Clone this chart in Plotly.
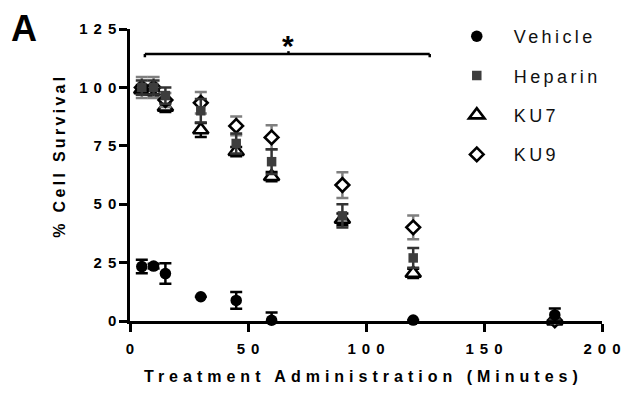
import plotly.graph_objects as go

# ---------------- data ----------------
veh_t = [5, 10, 15, 30, 45, 60, 120, 180]
veh_y = [23.3, 23.5, 20.3, 10.4, 8.8, 0.3, 0.4, 2.6]
veh_e = [2.9, 1.0, 4.4, 0.0, 3.6, 3.3, 0.0, 2.8]

hep_t = [5, 10, 15, 30, 45, 60, 90, 120, 180]
hep_y = [100.0, 100.0, 96.5, 90.0, 76.0, 68.2, 45.0, 27.0, 0.5]
hep_e = [3.0, 3.0, 3.5, 5.0, 4.3, 5.3, 5.0, 4.2, 0.0]

ku7_t = [5, 10, 15, 30, 45, 60, 90, 120, 180]
ku7_y = [99.0, 98.5, 91.5, 81.8, 72.5, 61.8, 43.5, 20.4, 0.0]
ku7_e = [2.0, 2.0, 2.0, 3.0, 2.0, 2.0, 2.5, 2.0, 1.0]

ku9_t = [5, 10, 15, 30, 45, 60, 90, 120, 180]
ku9_y = [100.0, 100.0, 94.6, 93.4, 83.5, 78.6, 58.2, 40.1, 0.3]
ku9_e = [4.5, 4.5, 3.0, 4.6, 4.0, 5.2, 5.5, 5.1, 0.0]

x_ticks = [0, 50, 100, 150, 200]
y_ticks = [0, 25, 50, 75, 100, 125]

sig_x0, sig_x1, sig_y = 6.3, 127.0, 114.3
sig_label = "*"

FONT = "Liberation Sans, Arial, Helvetica, sans-serif"


def spaced(s, px):
    s = str(s)
    if len(s) <= 1:
        return s
    return f'<span style="letter-spacing:{px}px">{s[:-1]}</span>{s[-1]}'


# ---------------- geometry (pixels) ----------------
W, H = 633, 394
ML, MR, MT, MB = 130, 20, 29, 73
PW = W - ML - MR
PH = H - MT - MB


def px_x(p):
    return (p - ML) / PW


def px_y(p):
    return (H - MB - p) / PH


fig = go.Figure()

common = dict(mode="markers", cliponaxis=False)

fig.add_trace(go.Scatter(
    x=ku7_t, y=ku7_y, name=spaced("KU7", 3.4), legendgroup="c", legendrank=3,
    marker=dict(symbol="triangle-up", size=13.5, color="white",
                line=dict(color="black", width=2.6)),
    error_y=dict(type="data", array=ku7_e, color="black", thickness=2.5, width=6),
    **common))

fig.add_trace(go.Scatter(
    x=ku9_t, y=ku9_y, name=spaced("KU9", 3.4), legendgroup="d", legendrank=4,
    marker=dict(symbol="diamond", size=10.5, color="white",
                line=dict(color="black", width=2.6)),
    error_y=dict(type="data", array=ku9_e, color="#7f7f7f", thickness=2.5, width=6),
    **common))

fig.add_trace(go.Scatter(
    x=hep_t, y=hep_y, name=spaced("Heparin", 3.4), legendgroup="b", legendrank=2,
    marker=dict(symbol="square", size=9.5, color="#3d3d3d", line=dict(width=0)),
    error_y=dict(type="data", array=hep_e, color="#333333", thickness=2.5, width=6),
    **common))

fig.add_trace(go.Scatter(
    x=veh_t, y=veh_y, name=spaced("Vehicle", 3.4), legendgroup="a", legendrank=1,
    marker=dict(symbol="circle", size=11.5, color="black", line=dict(width=0)),
    error_y=dict(type="data", array=veh_e, color="black", thickness=2.5, width=6),
    **common))

# significance bracket
line = dict(color="black", width=2.5)
fig.add_shape(type="line", x0=sig_x0, x1=sig_x1, y0=sig_y, y1=sig_y, line=line)
fig.add_shape(type="line", x0=sig_x0, x1=sig_x0, y0=sig_y, y1=sig_y - 1.4, line=line)
fig.add_shape(type="line", x0=sig_x1, x1=sig_x1, y0=sig_y, y1=sig_y - 1.4, line=line)
mid = (sig_x0 + sig_x1) / 2 + 0.5
fig.add_shape(type="line", x0=mid, x1=mid, y0=sig_y, y1=sig_y + 1.2, line=line)
fig.add_annotation(x=mid, y=sig_y, xref="x", yref="y", text=f"<b>{sig_label}</b>",
                   showarrow=False, yanchor="bottom", yshift=-10,
                   font=dict(family=FONT, size=30, color="black"))

# panel letter
fig.add_annotation(x=px_x(6), y=px_y(6), xref="paper", yref="paper",
                   text="<b>A</b>", showarrow=False, xanchor="left", yanchor="top",
                   font=dict(family=FONT, size=36, color="black"))

# axis titles
fig.add_annotation(x=px_x(57), y=px_y(157), xref="paper", yref="paper",
                   text="<b>" + spaced("% Cell Survival", 3.3) + "</b>",
                   textangle=-90, showarrow=False, xanchor="center", yanchor="middle",
                   font=dict(family=FONT, size=16, color="black"))
fig.add_annotation(x=px_x(366), y=px_y(377), xref="paper", yref="paper",
                   text="<b>" + spaced("Treatment Administration (Minutes)", 5) + "</b>",
                   showarrow=False, xanchor="center", yanchor="middle",
                   font=dict(family=FONT, size=16, color="black"))

axis_common = dict(showgrid=False, zeroline=False, showline=True, linecolor="black",
                   linewidth=2.5, ticks="outside", ticklen=8, tickwidth=2.5,
                   tickcolor="black",
                   tickfont=dict(family=FONT, size=15, color="black", weight="bold"))

fig.update_xaxes(range=[0, 200], tickvals=x_ticks,
                 ticktext=["<b>" + spaced(v, 6) + "</b>" for v in x_ticks],
                 ticklabelstandoff=4,
                 **axis_common)
fig.update_yaxes(range=[0, 125], tickvals=y_ticks,
                 ticktext=["<b>" + spaced(v, 6) + "</b>" for v in y_ticks],
                 ticklabelstandoff=0,
                 **axis_common)

fig.update_layout(
    width=W, height=H,
    margin=dict(l=ML, r=MR, t=MT, b=MB, pad=0),
    paper_bgcolor="white", plot_bgcolor="white",
    showlegend=True,
    legend=dict(x=px_x(447), y=px_y(18), xanchor="left", yanchor="top",
                bgcolor="rgba(0,0,0,0)", borderwidth=0,
                font=dict(family=FONT, size=18, color="#111111"),
                itemwidth=64, tracegroupgap=13, traceorder="grouped"),
)

fig.write_html("out.html")
